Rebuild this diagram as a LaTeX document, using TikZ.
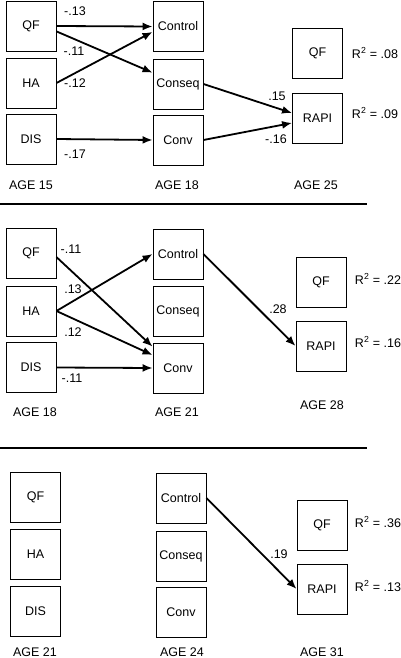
\documentclass[tikz,border=0pt]{standalone}
\usepackage{fontspec}
\setmainfont{Liberation Sans}
\usetikzlibrary{arrows.meta}
\begin{document}
\begin{tikzpicture}[x=1pt,y=-1pt,
  font=\fontsize{12.5}{14}\selectfont,
  >={Latex[length=10pt,width=8pt]},
  box/.style={draw,line width=0.9pt,minimum width=50pt,minimum height=50pt,inner sep=0pt},
  arr/.style={->,line width=1.8pt},
  divider/.style={line width=2pt}]

\useasboundingbox (0,0) rectangle (400,658);

\node[box] (qf1) at (31,26) {QF};
\node[box] (ha1) at (31,83) {HA};
\node[box] (dis1) at (31,139) {DIS};
\node[box] (ctl1) at (178,26.5) {Control};
\node[box] (csq1) at (178,84) {Conseq};
\node[box] (conv1) at (178,140) {Conv};
\node[box] (qfo1) at (317.5,53.5) {QF};
\node[box] (rapi1) at (317.5,118) {RAPI};
\node (r2a) at (375,53) {R\textsuperscript{2} = .08};
\node (r2b) at (375,113) {R\textsuperscript{2} = .09};
\node (age15) at (31,185) {AGE 15};
\node (age18a) at (177,185) {AGE 18};
\node (age25) at (316,185) {AGE 25};

\draw[arr] (qf1.east) -- (ctl1.west);
\draw[arr] (qf1.-12) -- (csq1.156);
\draw[arr] (ha1.east) -- (ctl1.192);
\draw[arr] (dis1.east) -- (conv1.west);
\draw[arr] (csq1.east) -- (rapi1.169);
\draw[arr] (conv1.east) -- (rapi1.191);
\node (b1) at (75,11) {-.13};
\node (b2) at (74,51) {-.11};
\node (b3) at (75,83) {-.12};
\node (b4) at (75,154) {-.17};
\node (b5) at (277,96) {.15};
\node (b6) at (276,139) {-.16};

\coordinate (d1a) at (0,203.5);
\coordinate (d1b) at (367,203.5);
\draw[divider] (d1a) -- (d1b);

\node[box] (qf2) at (31,253.5) {QF};
\node[box] (ha2) at (31,311) {HA};
\node[box] (dis2) at (31,367.5) {DIS};
\node[box] (ctl2) at (178,254) {Control};
\node[box] (csq2) at (178,311.5) {Conseq};
\node[box] (conv2) at (178,368) {Conv};
\node[box] (qfo2) at (321,282) {QF};
\node[box] (rapi2) at (321,346) {RAPI};
\node (r2c) at (378,279) {R\textsuperscript{2} = .22};
\node (r2d) at (378,342) {R\textsuperscript{2} = .16};
\node (age18b) at (35,412) {AGE 18};
\node (age21a) at (177,412) {AGE 21};
\node (age28) at (322,405) {AGE 28};

\draw[arr] (qf2.-8) -- (conv2.140);
\draw[arr] (ha2.east) -- (ctl2.west);
\draw[arr] (ha2.east) -- (conv2.153);
\draw[arr] (dis2.east) -- (conv2.west);
\draw[arr] (ctl2.east) -- (rapi2.west);
\node (b7) at (71,249) {-.11};
\node (b8) at (73,289) {.13};
\node (b9) at (73,332) {.12};
\node (b10) at (72,378) {-.11};
\node (b11) at (278,309) {.28};

\coordinate (d2a) at (0,448);
\coordinate (d2b) at (367,448);
\draw[divider] (d2a) -- (d2b);

\node[box] (qf3) at (35.5,497) {QF};
\node[box] (ha3) at (35.5,554) {HA};
\node[box] (dis3) at (35.5,611) {DIS};
\node[box] (ctl3) at (181,498) {Control};
\node[box] (csq3) at (181,556) {Conseq};
\node[box] (conv3) at (181,612) {Conv};
\node[box] (qfo3) at (322,525) {QF};
\node[box] (rapi3) at (322,589) {RAPI};
\node (r2e) at (378,522) {R\textsuperscript{2} = .36};
\node (r2f) at (378,586) {R\textsuperscript{2} = .13};
\node (age21b) at (35,652) {AGE 21};
\node (age24) at (182,652) {AGE 24};
\node (age31) at (322,652) {AGE 31};

\draw[arr] (ctl3.east) -- (rapi3.west);
\node (b12) at (279,554) {.19};

\end{tikzpicture}
\end{document}
